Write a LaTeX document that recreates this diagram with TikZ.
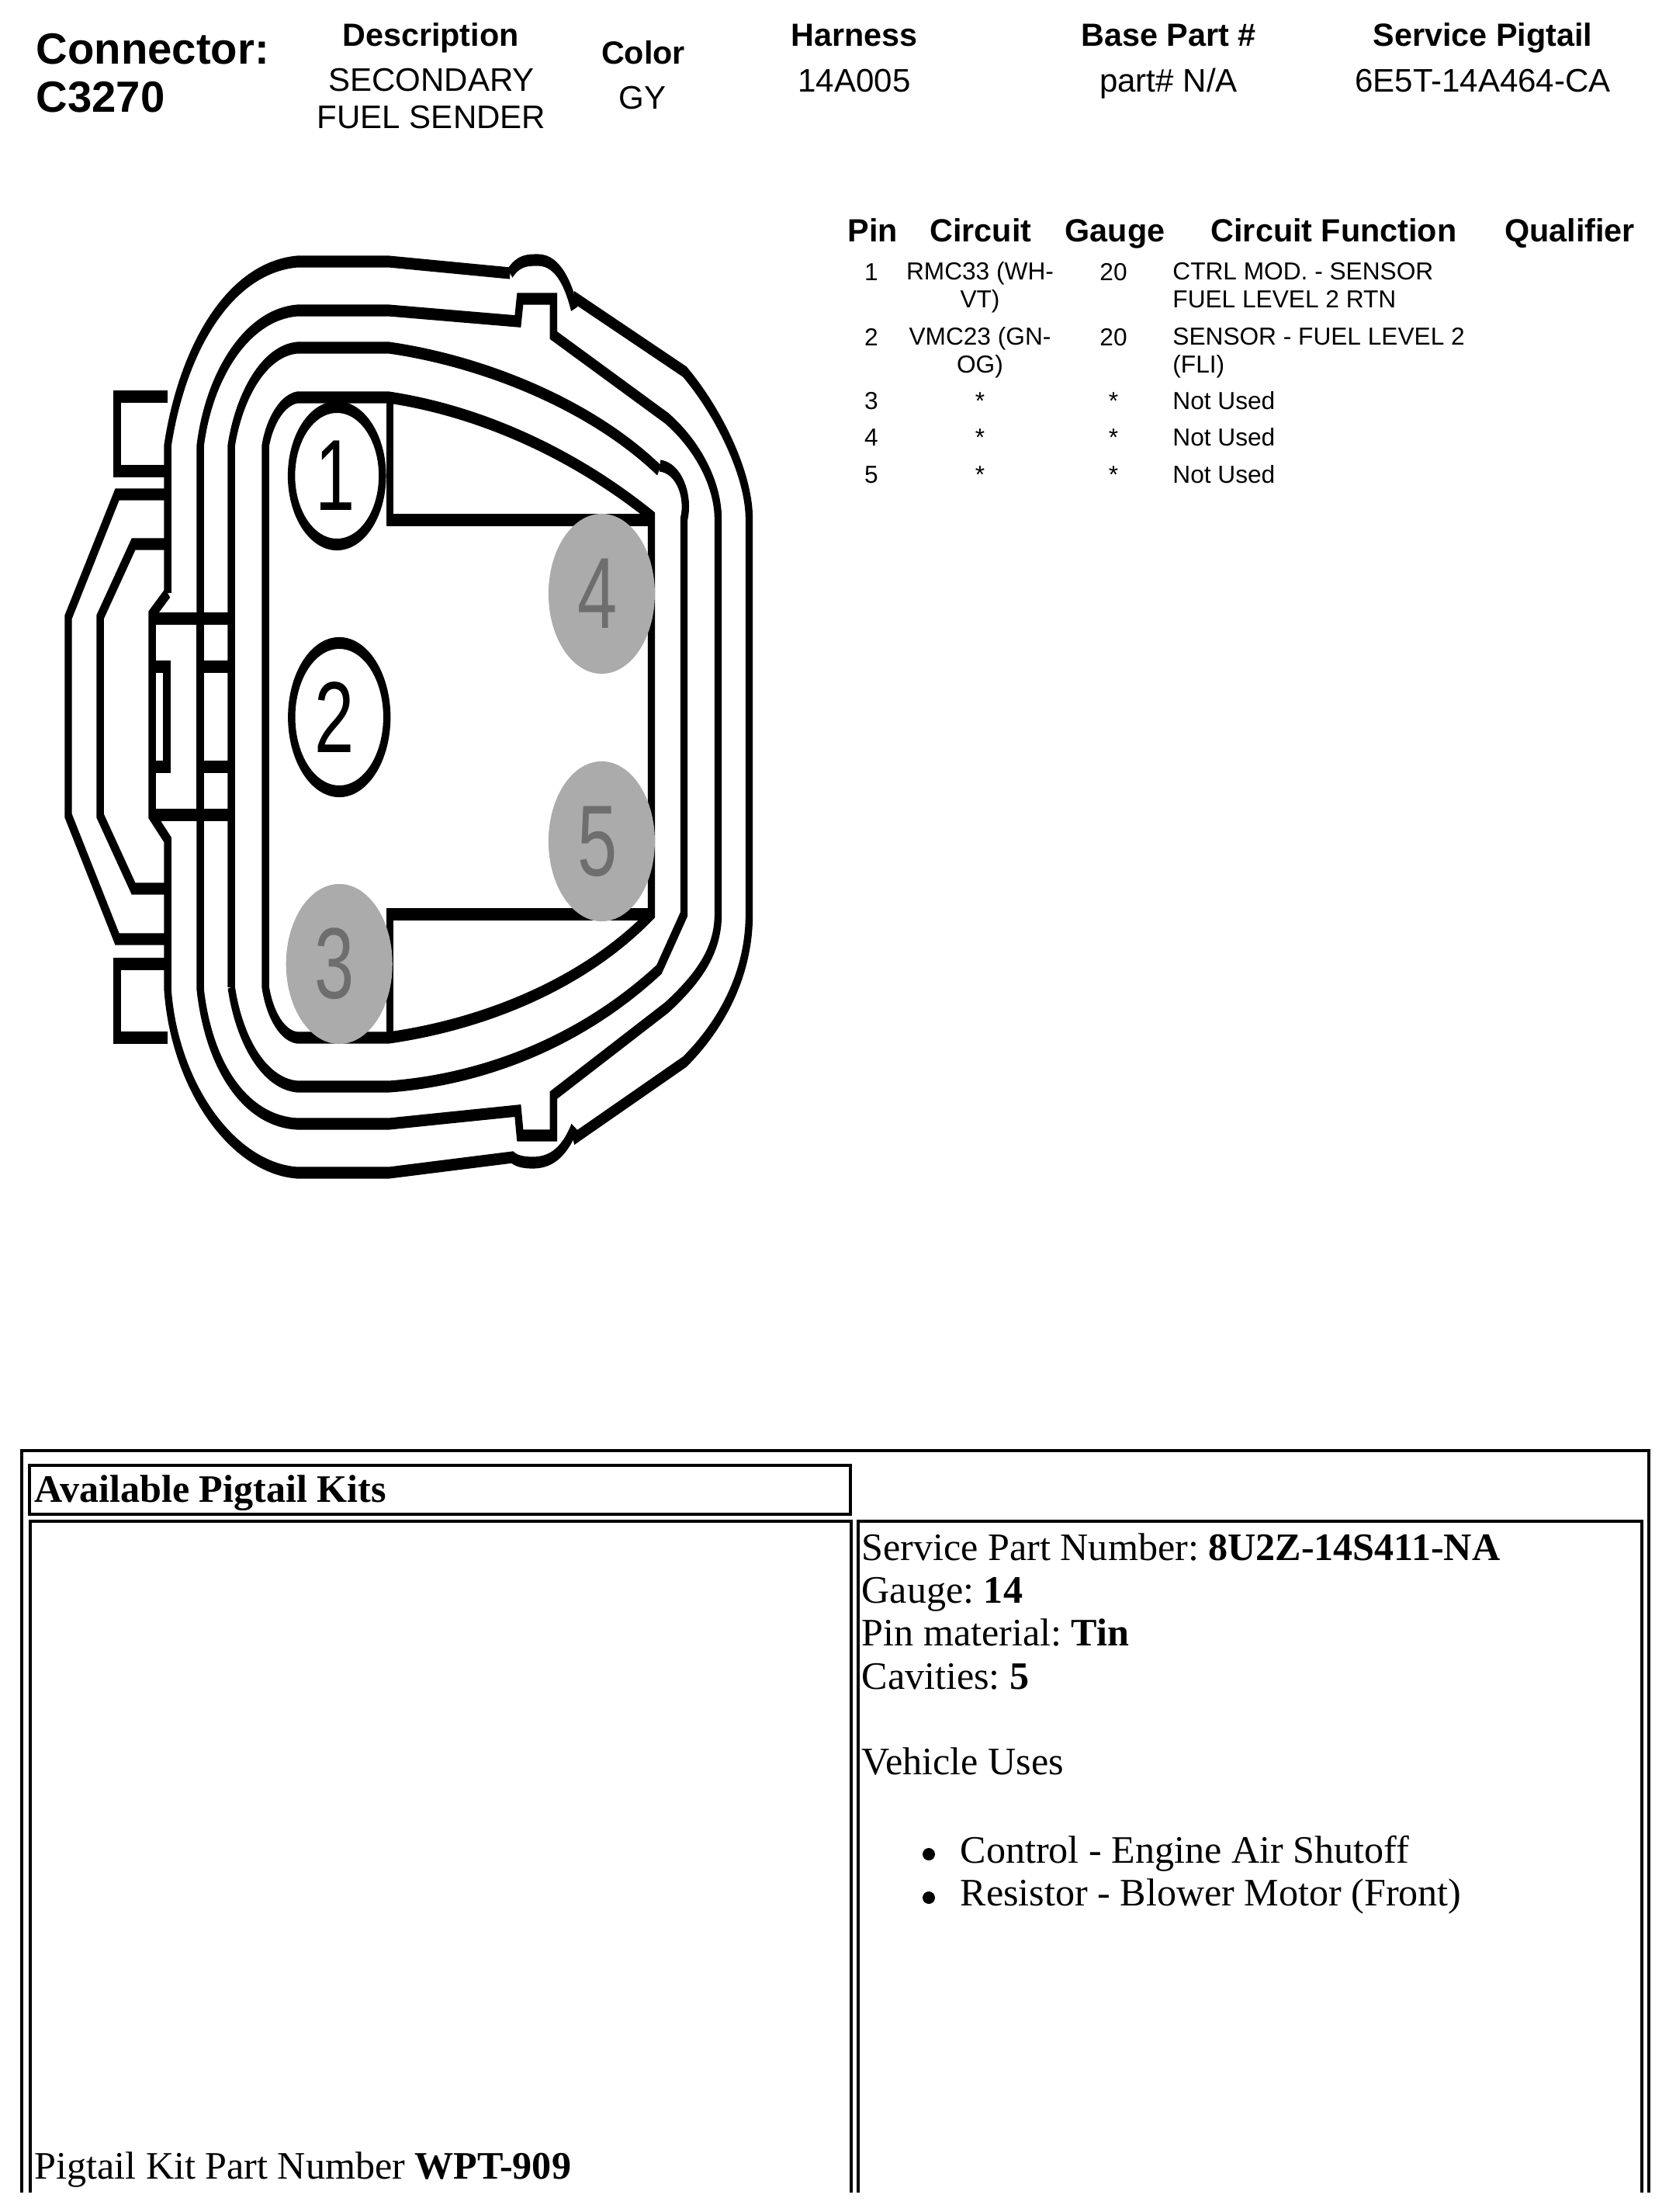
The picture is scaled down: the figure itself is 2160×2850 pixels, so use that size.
\documentclass[tikz,border=0pt]{standalone}
\usepackage{fontspec}
\usepackage{graphicx}
\setmainfont{Liberation Sans}
\newfontfamily\serifface{Liberation Serif}
\frenchspacing
\usetikzlibrary{shapes.geometric}
\definecolor{pingray}{HTML}{ABABAB}
\definecolor{pindigit}{HTML}{6E6E6E}
\newcommand{\pinnum}[2]{\scalebox{1.14}[1]{#2}\kern#1pt}
\tikzset{
  shell/.style={line width=4.3pt, line join=miter},
  cellline/.style={line width=1.1pt},
  pinbase/.style={ellipse, inner sep=0pt, font=\fontsize{37}{37}\selectfont},
  pinused/.style={pinbase, draw, fill=white, line width=4.3pt},
  pinfree/.style={pinbase, fill=pingray, text=pindigit, minimum width=2.21cm, minimum height=2.06cm},
  headtext/.style={anchor=base, font=\fontsize{11.75}{12}\bfseries\selectfont},
  valtext/.style={anchor=base, align=center, font=\fontsize{11.95}{13.4}\selectfont},
  rowtext/.style={anchor=base, align=center, font=\fontsize{9}{10}\selectfont},
  fntext/.style={anchor=base west, align=left, font=\fontsize{9}{10}\selectfont},
  kittext/.style={anchor=base west, align=left, inner sep=0pt, font=\fontsize{14.25}{15.7}\serifface\selectfont}
}
\begin{document}
\begin{tikzpicture}[x=0.01cm, y=-0.01cm]
\useasboundingbox (0,0) rectangle (2160,2850);

\node[anchor=base west, align=left, inner sep=0pt, font=\fontsize{16}{17.6}\bfseries\selectfont] (connector) at (46,144) {Connector:\\C3270};
\node[headtext] (desc) at (555,59) {Description};
\node[valtext] (descval) at (556,165) {SECONDARY\\FUEL SENDER};
\node[headtext] (color) at (829,82) {Color};
\node[valtext] (colorval) at (828,140) {GY};
\node[headtext] (harness) at (1101,59) {Harness};
\node[valtext] (harnessval) at (1101,118) {14A005};
\node[headtext] (base) at (1506,59) {Base Part \#};
\node[valtext] (baseval) at (1506,118) {part\# N/A};
\node[headtext] (pigtail) at (1911,59) {Service Pigtail};
\node[valtext] (pigtailval) at (1911,118) {6E5T-14A464-CA};

\node[headtext] (pin) at (1125,311) {Pin};
\node[headtext] (circuit) at (1264,311) {Circuit};
\node[headtext] (gauge) at (1437,311) {Gauge};
\node[headtext] (function) at (1719,311) {Circuit Function};
\node[headtext] (qualifier) at (2023,311) {Qualifier};

\node[rowtext] (pina) at (1123,361) {1};
\node[rowtext] (circa) at (1263,396) {RMC33 (WH-\\VT)};
\node[rowtext] (gaugea) at (1435,361) {20};
\node[fntext] (funca) at (1499,396) {CTRL MOD. - SENSOR\\FUEL LEVEL 2 RTN};
\node[rowtext] (pinb) at (1123,445) {2};
\node[rowtext] (circb) at (1263,480) {VMC23 (GN-\\OG)};
\node[rowtext] (gaugeb) at (1435,445) {20};
\node[fntext] (funcb) at (1499,480) {SENSOR - FUEL LEVEL 2\\(FLI)};
\foreach \rowname/\rowy in {3/527,4/574,5/622} {
  \node[rowtext] (pin\rowname) at (1123,\rowy) {\rowname};
  \node[rowtext] (circ\rowname) at (1263,\rowy) {*};
  \node[rowtext] (gauge\rowname) at (1435,\rowy) {*};
  \node[fntext] (func\rowname) at (1499,\rowy) {Not Used};
}

\begin{scope}[x=0.016129cm, transform canvas={xscale=0.62}]
\draw[shell] (216,764) -- (216,574) .. controls (235,450) and (295,345) .. (383,337) -- (501,337) -- (657,352);
\draw[shell] (657,352) .. controls (668,335) and (680,335) .. (693,335) .. controls (720,335) and (733,370) .. (740,398);
\draw[shell] (738,382) -- (882,479) .. controls (925,530) and (965,610) .. (965,669) -- (965,1178) .. controls (965,1260) and (925,1325) .. (882,1368) -- (738,1468);
\draw[shell] (740,1452) .. controls (725,1490) and (705,1498) .. (686,1498) .. controls (675,1498) and (665,1496) .. (660,1491) -- (501,1511) -- (383,1511) .. controls (300,1505) and (225,1400) .. (216,1275) -- (216,1082) -- (196,1051) -- (196,791) -- (216,764);
\draw[shell] (258,797) -- (258,574) .. controls (270,480) and (320,405) .. (383,400) -- (501,400) -- (667,414) -- (670,385) -- (713,385) -- (713,432) -- (859,539) .. controls (900,575) and (925,625) .. (925,669) -- (925,1178) .. controls (925,1225) and (900,1260) .. (859,1298) -- (713,1411) -- (713,1463) -- (670,1463) -- (667,1431) -- (501,1448) -- (383,1448) .. controls (320,1445) and (270,1380) .. (258,1275) -- (258,1051);
\draw[shell] (258,797) -- (258,1051);
\draw[shell] (298,1272) -- (298,574) .. controls (308,510) and (340,452) .. (383,448) -- (501,448) .. controls (620,465) and (760,520) .. (849,606);
\draw[shell] (850,600) .. controls (875,603) and (888,640) .. (881,669) -- (881,1178) -- (849,1249) .. controls (740,1350) and (610,1392) .. (501,1400) -- (383,1400) .. controls (340,1396) and (308,1340) .. (298,1272);
\draw[shell] (342,574) .. controls (348,540) and (365,515) .. (383,512) -- (501,512) .. controls (620,530) and (740,585) .. (839,665) -- (839,1178) .. controls (750,1270) and (620,1320) .. (501,1337) -- (383,1337) .. controls (365,1335) and (348,1310) .. (342,1272) -- cycle;
\draw[shell] (502,512) -- (502,670) -- (839,670);
\draw[shell] (502,1337) -- (502,1178) -- (839,1178);
\draw[shell] (196,797) -- (295,797);
\draw[shell] (196,1050) -- (295,1050);
\draw[shell] (262,859) -- (295,859);
\draw[shell] (262,988) -- (295,988);
\draw[shell] (196,859) -- (215,859) -- (215,988) -- (196,988);
\draw[shell] (216,511) -- (151,511) -- (151,607) -- (216,607);
\draw[shell] (216,1242) -- (151,1242) -- (151,1337) -- (216,1337);
\draw[shell] (216,637) -- (151,637) -- (88,795) -- (88,1051) -- (151,1210) -- (216,1210);
\draw[shell] (216,701) -- (172,701) -- (129,795) -- (129,1051) -- (172,1145) -- (216,1145);
\node[pinused, minimum width=1.89cm, minimum height=1.77cm] (pinone) at (434,613) {\pinnum{2}{1}};
\node[pinused, minimum width=1.98cm, minimum height=1.91cm] (pintwo) at (437,924) {\pinnum{6}{2}};
\node[pinfree] (pinthree) at (437,1242) {\pinnum{6}{3}};
\node[pinfree] (pinfour) at (775,765) {\pinnum{5}{4}};
\node[pinfree] (pinfive) at (775,1084) {\pinnum{5}{5}};
\end{scope}

\draw[cellline] (28,2825) |- (2125,1869) -- (2125,2825);
\draw[cellline] (39,2825) |- (1097,1960) -- (1097,2825);
\draw[cellline] (1106,2825) |- (2116,1960) -- (2116,2825);
\draw[cellline] (38,1888) rectangle (1096,1951);
\node[kittext, font=\fontsize{14.25}{15.7}\serifface\bfseries\selectfont] (kits) at (44,1935) {Available Pigtail Kits};
\node[kittext] (kitpart) at (44,2807) {Pigtail Kit Part Number \textbf{WPT-909}};
\node[kittext] (service) at (1110,2176) {Service Part Number: \textbf{8U2Z-14S411-NA}\\Gauge: \textbf{14}\\Pin material: \textbf{Tin}\\Cavities: \textbf{5}};
\node[kittext] (uses) at (1110,2286) {Vehicle Uses};
\node[kittext] (usea) at (1237,2400) {Control - Engine Air Shutoff};
\node[kittext] (useb) at (1237,2455) {Resistor - Blower Motor (Front)};
\fill (1197,2389) circle (8);
\fill (1197,2445) circle (8);
\end{tikzpicture}
\end{document}
